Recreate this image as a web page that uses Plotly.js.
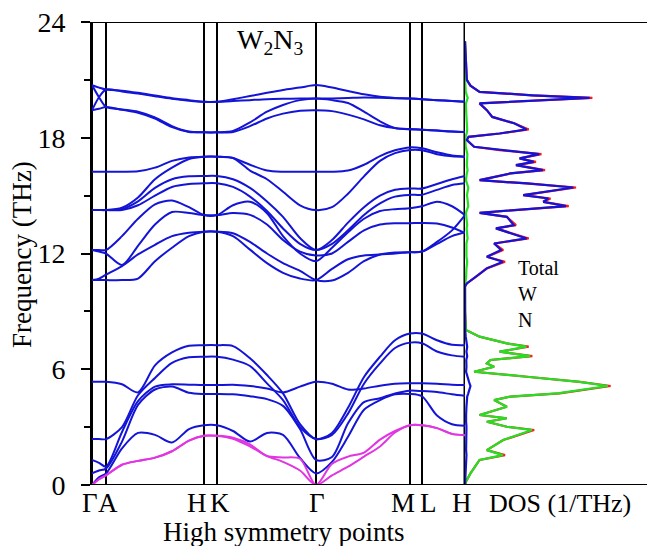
<!DOCTYPE html>
<html>
<head>
<meta charset="utf-8">
<script src="https://cdn.plot.ly/plotly-3.0.1.min.js"></script>
<style>html,body{margin:0;padding:0;background:#fff;}#chart{width:647px;height:546px;}</style>
</head>
<body>
<div id="chart"></div>
<script>
// path coordinate (distance along the high-symmetry path)
const kPath = [0, 7, 14, 30, 46, 63, 80, 97, 112, 125, 141, 158, 175, 191, 208, 224, 240, 256, 272, 288, 303, 318, 330, 345, 360, 373];
const hsK = [0, 14, 112, 125, 224, 318, 330, 373];
const hsLabels = ["Γ", "A", "H", "K", "Γ", "M", "L", "H"];

// acoustic branches (magenta)
const L1 = [0, 0.3, 0.5, 1.05, 1.25, 1.42, 1.75, 2.3, 2.55, 2.55, 2.4, 2.0, 1.5, 1.2, 0.75, 0, 0.5, 0.95, 1.47, 2.0, 2.72, 3.1, 3.1, 2.95, 2.65, 2.58];
const L2 = [0, 0.3, 0.5, 1.05, 1.25, 1.42, 1.75, 2.3, 2.55, 2.55, 2.45, 2.1, 1.5, 1.43, 1.36, 0, 1.1, 1.47, 1.68, 2.35, 2.8, 3.1, 3.1, 2.95, 2.65, 2.58];
// low optical branches (blue)
const B3 = [0, 0.4, 0.6, 1.9, 2.7, 2.6, 2.2, 2.9, 3.1, 3.1, 2.8, 2.25, 2.7, 2.6, 1.4, 0.6, 1.2, 2.5, 3.9, 4.4, 4.7, 4.72, 4.6, 3.6, 3.15, 3.07];
const B4 = [0.6, 0.75, 0.85, 2.25, 4.15, 4.95, 5.1, 4.78, 4.72, 4.72, 4.7, 4.6, 4.45, 4.1, 2.9, 1.3, 1.45, 3.2, 4.3, 4.5, 4.75, 4.89, 4.87, 4.82, 4.7, 4.62];
const B5 = [1.3, 1.15, 0.95, 2.75, 4.35, 5.1, 5.22, 5.2, 5.18, 5.18, 5.2, 5.13, 5.0, 4.8, 5.1, 5.35, 5.25, 4.95, 5.0, 5.15, 5.25, 5.27, 5.27, 5.25, 5.2, 5.18];
const B6 = [2.38, 2.38, 2.38, 3.0, 4.65, 5.55, 6.33, 6.62, 6.65, 6.65, 6.5, 6.17, 5.27, 4.4, 3.0, 2.38, 2.6, 3.7, 5.25, 6.3, 7.1, 7.38, 7.35, 6.92, 6.72, 6.65];
const B7 = [5.35, 5.35, 5.35, 5.22, 4.8, 6.2, 6.87, 7.22, 7.25, 7.25, 7.2, 6.57, 5.7, 4.75, 3.15, 2.38, 2.7, 4.0, 5.6, 6.65, 7.5, 7.85, 7.85, 7.5, 7.27, 7.25];
// high optical branches (blue)
const M8 = [10.62, 10.62, 10.62, 10.62, 10.7, 11.6, 12.3, 12.9, 13.13, 13.13, 12.9, 12.2, 11.5, 11.0, 10.7, 10.62, 11.2, 11.7, 11.9, 11.95, 12.0, 12.07, 12.1, 12.6, 13.2, 13.99];
const M7 = [10.62, 10.7, 10.9, 11.35, 11.95, 12.45, 12.9, 13.08, 13.13, 13.13, 13.05, 12.6, 12.0, 11.5, 11.1, 10.62, 10.6, 11.0, 11.6, 11.95, 12.05, 12.07, 12.1, 12.5, 12.9, 13.1];
const M6 = [12.18, 12.1, 12.0, 11.4, 12.4, 13.5, 14.15, 14.1, 13.99, 13.99, 14.1, 14.0, 13.5, 12.7, 12.1, 11.9, 12.0, 12.6, 13.2, 13.5, 13.57, 13.57, 13.58, 13.55, 13.35, 13.06];
const M5 = [12.18, 12.18, 12.18, 12.9, 13.8, 14.55, 14.75, 14.4, 13.99, 13.99, 14.5, 14.68, 14.09, 12.9, 12.0, 11.6, 12.3, 13.1, 13.8, 14.2, 14.3, 14.35, 14.45, 14.68, 14.45, 13.99];
const M4 = [14.25, 14.25, 14.25, 14.25, 14.5, 15.0, 15.45, 15.6, 15.64, 15.64, 15.45, 14.95, 14.2, 13.3, 12.5, 12.18, 12.5, 13.2, 14.0, 14.6, 14.95, 15.04, 15.05, 15.3, 15.55, 15.64];
const M3 = [14.25, 14.25, 14.25, 14.3, 14.7, 15.4, 15.85, 16.0, 16.02, 16.02, 15.85, 15.4, 14.7, 13.9, 12.8, 12.18, 12.7, 13.6, 14.4, 15.0, 15.3, 15.37, 15.37, 15.6, 15.85, 16.02];
const M2 = [14.25, 14.25, 14.25, 14.37, 14.9, 15.85, 16.45, 16.9, 17.02, 17.02, 16.95, 16.3, 15.85, 15.2, 14.5, 14.25, 14.4, 15.1, 16.0, 16.8, 17.2, 17.36, 17.35, 17.15, 17.04, 17.02];
const M1 = [16.24, 16.24, 16.24, 16.24, 16.26, 16.45, 16.8, 16.98, 17.02, 17.02, 16.95, 16.6, 16.3, 16.24, 16.24, 16.24, 16.24, 16.3, 16.6, 17.05, 17.35, 17.5, 17.45, 17.25, 17.08, 17.02];
const T4 = [19.43, 19.5, 19.6, 19.45, 19.3, 19.0, 18.55, 18.3, 18.28, 18.28, 18.3, 18.6, 19.0, 19.25, 19.4, 19.43, 19.38, 19.2, 18.95, 18.65, 18.5, 18.45, 18.42, 18.37, 18.32, 18.3];
const T3 = [19.43, 20.1, 20.5, 20.4, 20.29, 20.15, 20.02, 19.92, 19.86, 19.86, 19.9, 19.95, 20.0, 20.02, 20.03, 20.03, 20.04, 20.06, 20.08, 20.07, 20.05, 20.03, 20.0, 19.95, 19.9, 19.86];
const T2 = [20.73, 20.1, 19.6, 19.47, 19.35, 19.05, 18.6, 18.32, 18.28, 18.28, 18.35, 18.8, 19.35, 19.7, 19.95, 20.03, 19.95, 19.8, 19.35, 18.85, 18.5, 18.43, 18.42, 18.38, 18.33, 18.3];
const T1 = [20.73, 20.6, 20.5, 20.44, 20.33, 20.19, 20.05, 19.95, 19.86, 19.86, 20.0, 20.16, 20.33, 20.48, 20.6, 20.73, 20.6, 20.42, 20.25, 20.12, 20.06, 20.03, 20.0, 19.95, 19.9, 19.86];

// phonon DOS
const dosFreq = [0, 0.17, 0.6, 1.3, 1.55, 1.81, 2.33, 2.85, 3.02, 3.28,
  3.46, 3.63, 4.06, 4.4, 4.58, 4.75, 5.13, 5.35, 5.61, 5.87,
  6.13, 6.3, 6.48, 6.68, 6.91, 7.17, 7.34, 7.69, 8.03, 9.0,
  10.3, 10.45, 10.79, 11.23, 11.57, 11.83, 12.18, 12.52, 12.78, 13.3,
  13.47, 13.9, 14.11, 14.46, 14.68, 14.85, 15.03, 15.42, 15.63, 15.8,
  16.15, 16.32, 16.58, 16.75, 16.84, 16.93, 17.15, 17.36, 17.53, 17.88,
  18.05, 18.22, 18.43, 18.75, 19.08, 19.43, 19.78, 20.07, 20.2, 20.38,
  20.7, 21.0, 23.0];
const dosTotal = [0, 0.005, 0.03, 0.08, 0.22, 0.12, 0.21, 0.38, 0.23, 0.12,
  0.23, 0.08, 0.23, 0.16, 0.25, 0.52, 0.80, 0.63, 0.34, 0.05,
  0.16, 0.12, 0.14, 0.37, 0.19, 0.35, 0.23, 0.08, 0.005, 0,
  0, 0.01, 0.06, 0.12, 0.22, 0.12, 0.21, 0.16, 0.35, 0.17,
  0.28, 0.23, 0.08, 0.57, 0.43, 0.47, 0.32, 0.61, 0.34, 0.08,
  0.25, 0.44, 0.28, 0.39, 0.34, 0.30, 0.42, 0.19, 0.05, 0.01,
  0.02, 0.19, 0.35, 0.27, 0.15, 0.12, 0.08, 0.70, 0.37, 0.08,
  0.03, 0.01, 0];
const dosW = [0, 0.005, 0.03, 0.08, 0.208, 0.12, 0.21, 0.368, 0.23, 0.12,
  0.23, 0.08, 0.23, 0.16, 0.25, 0.508, 0.785, 0.63, 0.34, 0.05,
  0.16, 0.12, 0.14, 0.358, 0.19, 0.338, 0.23, 0.08, 0.005, 0,
  0, 0.003, 0.006, 0.008, 0.012, 0.008, 0.01, 0.008, 0.014, 0.009,
  0.012, 0.01, 0.005, 0.018, 0.014, 0.015, 0.011, 0.018, 0.012, 0.005,
  0.01, 0.014, 0.01, 0.012, 0.011, 0.01, 0.013, 0.008, 0.004, 0.002,
  0.003, 0.009, 0.012, 0.01, 0.007, 0.006, 0.005, 0.015, 0.01, 0.004,
  0.002, 0.001, 0];
const dosN = [0, 0.001, 0.003, 0.005, 0.008, 0.006, 0.008, 0.01, 0.008, 0.006,
  0.008, 0.006, 0.008, 0.008, 0.012, 0.018, 0.03, 0.022, 0.012, 0.006,
  0.008, 0.006, 0.007, 0.012, 0.008, 0.012, 0.008, 0.004, 0.001, 0,
  0, 0.01, 0.06, 0.12, 0.208, 0.12, 0.198, 0.16, 0.338, 0.17,
  0.268, 0.23, 0.08, 0.555, 0.43, 0.458, 0.32, 0.595, 0.34, 0.08,
  0.25, 0.428, 0.28, 0.378, 0.34, 0.30, 0.408, 0.19, 0.05, 0.01,
  0.02, 0.19, 0.338, 0.27, 0.15, 0.12, 0.08, 0.685, 0.37, 0.08,
  0.03, 0.01, 0];
const dosLegend = ["Total", "W", "N"];

const BLUE = '#1414d6', MAG = '#e035e0', GREEN = '#22e022', RED = '#ff1a1a';
const W = 647, H = 546;
const px = v => v / W, py = v => (H - v) / H;
const serif = '"Liberation Serif", "Times New Roman", Times, serif';

const traces = [];
const blueBands = [B3, B4, B5, B6, B7, M8, M7, M6, M5, M4, M3, M2, M1, T4, T3, T2, T1];
blueBands.forEach(b => traces.push({x: kPath, y: b, type: 'scatter', mode: 'lines',
  line: {color: BLUE, width: 2, shape: 'spline', smoothing: 0.8}, hoverinfo: 'skip', xaxis: 'x', yaxis: 'y'}));
[L2, L1].forEach(b => traces.push({x: kPath, y: b, type: 'scatter', mode: 'lines',
  line: {color: MAG, width: 2, shape: 'spline', smoothing: 0.8}, hoverinfo: 'skip', xaxis: 'x', yaxis: 'y'}));
traces.push({x: dosTotal, y: dosFreq, type: 'scatter', mode: 'lines', line: {color: RED, width: 2.2}, xaxis: 'x2', yaxis: 'y', name: 'Total'});
traces.push({x: dosW, y: dosFreq, type: 'scatter', mode: 'lines', line: {color: GREEN, width: 2.2}, xaxis: 'x2', yaxis: 'y', name: 'W'});
traces.push({x: dosN, y: dosFreq, type: 'scatter', mode: 'lines', line: {color: BLUE, width: 2.2}, xaxis: 'x2', yaxis: 'y', name: 'N'});

const shapes = [];
hsK.forEach((k, i) => shapes.push({type: 'line', xref: 'x', yref: 'y', x0: k, x1: k, y0: 0, y1: 24,
  line: {color: 'black', width: i === hsK.length - 1 ? 3 : 2}, layer: 'below'}));
[0, 24].forEach(v => shapes.push({type: 'line', xref: 'paper', yref: 'y', x0: px(92), x1: 1, y0: v, y1: v,
  line: {color: 'black', width: 2}, layer: 'above'}));

const xShift = [-2, 2, -7, 3, 1, -7, 6, -3];
const annotations = hsLabels.map((t, i) => ({text: t, xref: 'x', yref: 'paper', x: hsK[i], y: py(503),
  xshift: xShift[i], showarrow: false, xanchor: 'center', yanchor: 'middle', font: {family: serif, size: 27, color: 'black'}}));
annotations.push({text: 'DOS (1/THz)', xref: 'paper', yref: 'paper', x: px(560), y: py(503), showarrow: false,
  xanchor: 'center', yanchor: 'middle', font: {family: serif, size: 26, color: 'black'}});
annotations.push({text: 'High symmetry points', xref: 'paper', yref: 'paper', x: px(284), y: py(532), showarrow: false,
  xanchor: 'center', yanchor: 'middle', font: {family: serif, size: 27, color: 'black'}});
annotations.push({text: 'Frequency (THz)', xref: 'paper', yref: 'paper', x: px(22), y: py(255), showarrow: false,
  textangle: -90, xanchor: 'center', yanchor: 'middle', font: {family: serif, size: 27, color: 'black'}});
annotations.push({text: 'W<sub>2</sub>N<sub>3</sub>', xref: 'x', yref: 'y', x: 178, y: 23.0, showarrow: false,
  xanchor: 'center', yanchor: 'middle', font: {family: serif, size: 28, color: 'black'}});
annotations.push({text: dosLegend.join('<br>'), xref: 'x2', yref: 'y', x: 0.28, y: 9.9, showarrow: false,
  xanchor: 'left', yanchor: 'middle', align: 'left', font: {family: serif, size: 20, color: 'black'}});

const layout = {
  width: W, height: H, margin: {l: 0, r: 0, t: 0, b: 0}, showlegend: false,
  paper_bgcolor: 'white', plot_bgcolor: 'white',
  font: {family: serif, color: 'black'},
  xaxis: {domain: [px(92), px(465)], range: [0, 373], showticklabels: false, ticks: '', showline: false,
    zeroline: false, showgrid: false, fixedrange: true},
  xaxis2: {domain: [px(465), 1], range: [0, 1], anchor: 'y', showticklabels: false, ticks: '', showline: false,
    zeroline: false, showgrid: false},
  yaxis: {domain: [py(485), py(22)], range: [0, 24], tickvals: [0, 6, 12, 18, 24], ticks: 'outside', ticklen: 9,
    tickwidth: 2, tickcolor: 'black', showline: true, linewidth: 2, linecolor: 'black', showgrid: false, zeroline: false,
    minor: {tickvals: [3, 9, 15, 21], ticks: 'outside', ticklen: 6, tickwidth: 2, tickcolor: 'black'},
    tickfont: {family: serif, size: 28, color: 'black'}, ticklabelstandoff: 10},
  shapes: shapes, annotations: annotations
};
Plotly.newPlot('chart', traces, layout, {staticPlot: true, displayModeBar: false});
</script>
</body>
</html>
